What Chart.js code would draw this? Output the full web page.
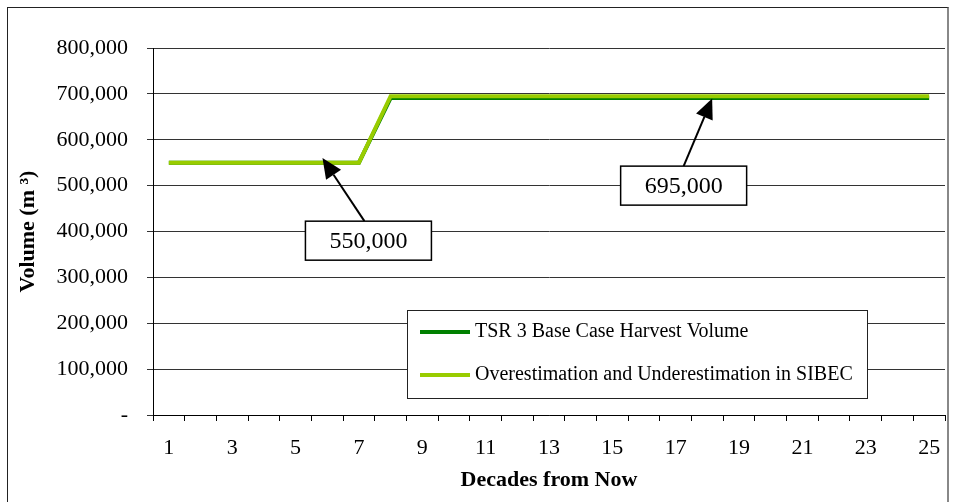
<!DOCTYPE html>
<html>
<head>
<meta charset="utf-8">
<script src="https://cdn.jsdelivr.net/npm/chart.js@4"></script>
<style>
  body { margin: 0; background: #fff; }
  #wrap { position: relative; width: 959px; height: 502px; }
  #frame { position: absolute; left: 7px; top: 7px; width: 939px; height: 510px;
           border: 1px solid #222; border-right: 2px solid #888; pointer-events: none; }
  canvas { position: absolute; left: 0; top: 0; }
</style>
</head>
<body>
<div id="wrap">
  <canvas id="volChart" width="959" height="502"></canvas>
  <div id="frame"></div>
</div>
<script>
// decades 1..25
const decades = [1,2,3,4,5,6,7,8,9,10,11,12,13,14,15,16,17,18,19,20,21,22,23,24,25];

const baseCase = [550000,550000,550000,550000,550000,550000,550000,
  691000,691000,691000,691000,691000,691000,691000,691000,691000,691000,
  691000,691000,691000,691000,691000,691000,691000,691000];

const sibecCase = [550000,550000,550000,550000,550000,550000,550000,
  695000,695000,695000,695000,695000,695000,695000,695000,695000,695000,
  695000,695000,695000,695000,695000,695000,695000,695000];

const seriesNames = ['TSR 3 Base Case Harvest Volume', 'Overestimation and Underestimation in SIBEC'];
const seriesColors = ['#008000', '#99cc00'];

const yTicks = [0,100000,200000,300000,400000,500000,600000,700000,800000];

// callout values and where their arrows land (decade, value)
const calloutValues = [550000, 695000];
const calloutTips = [[5.85, 560000], [18.15, 690000]];
const calloutBoxes = [[7.3, 380000], [17.25, 500000]];

const SERIF = "'Liberation Serif', 'Times New Roman', serif";

function fmt(v) {
    return v === 0 ? '-' : v.toLocaleString('en-US');
}

// x position for a fractional decade on the category axis
function decadeX(scale, d) {
    const x0 = scale.getPixelForValue(0);
    const step = scale.getPixelForValue(1) - x0;
    return x0 + (d - 1) * step;
}

const extras = {
    id: 'extras',
    afterDatasetsDraw(chart) {
        const ctx = chart.ctx;
        const xs = chart.scales.x, ys = chart.scales.y;
        const area = chart.chartArea;

        // legend box
        const lx = area.right - 538, ly = area.top + 262, lw = 460, lh = 88;
        ctx.save();
        ctx.fillStyle = '#fff';
        ctx.fillRect(lx, ly, lw, lh);
        ctx.strokeStyle = '#222';
        ctx.lineWidth = 1;
        ctx.strokeRect(lx + 0.5, ly + 0.5, lw, lh);
        ctx.font = '20px ' + SERIF;
        ctx.textBaseline = 'middle';
        ctx.fillStyle = '#000';
        seriesNames.forEach((name, i) => {
            const yy = ly + 22 + i * 43;
            ctx.strokeStyle = seriesColors[i];
            ctx.lineWidth = 4;
            ctx.beginPath();
            ctx.moveTo(lx + 13, yy);
            ctx.lineTo(lx + 63, yy);
            ctx.stroke();
            ctx.fillText(name, lx + 68, yy);
        });
        ctx.restore();

        // callouts
        ctx.save();
        calloutValues.forEach((val, i) => {
            const tx = decadeX(xs, calloutTips[i][0]);
            const ty = ys.getPixelForValue(calloutTips[i][1]);
            const bx = decadeX(xs, calloutBoxes[i][0]);
            const by = ys.getPixelForValue(calloutBoxes[i][1]);
            const bw = 126, bh = 39;
            const sx = bx + (tx > bx ? 0 : -4), sy = by - bh / 2;

            // arrow shaft + head
            const ang = Math.atan2(ty - sy, tx - sx);
            const head = 20, half = 9;
            const hx = tx - head * Math.cos(ang), hy = ty - head * Math.sin(ang);
            ctx.strokeStyle = '#000';
            ctx.lineWidth = 2;
            ctx.beginPath();
            ctx.moveTo(sx, sy);
            ctx.lineTo(hx, hy);
            ctx.stroke();
            ctx.fillStyle = '#000';
            ctx.beginPath();
            ctx.moveTo(tx, ty);
            ctx.lineTo(hx + half * Math.sin(ang), hy - half * Math.cos(ang));
            ctx.lineTo(hx - half * Math.sin(ang), hy + half * Math.cos(ang));
            ctx.closePath();
            ctx.fill();

            // label box
            ctx.fillStyle = '#fff';
            ctx.fillRect(bx - bw / 2, by - bh / 2, bw, bh);
            ctx.lineWidth = 1.5;
            ctx.strokeRect(bx - bw / 2, by - bh / 2, bw, bh);
            ctx.fillStyle = '#000';
            ctx.font = '24px ' + SERIF;
            ctx.textAlign = 'center';
            ctx.textBaseline = 'middle';
            ctx.fillText(fmt(val), bx, by + 1);
        });
        ctx.restore();
    }
};

new Chart(document.getElementById('volChart'), {
    type: 'line',
    data: {
        labels: decades,
        datasets: [
            { label: seriesNames[0], data: baseCase, borderColor: seriesColors[0], borderWidth: 4, pointRadius: 0, order: 1 },
            { label: seriesNames[1], data: sibecCase, borderColor: seriesColors[1], borderWidth: 4, pointRadius: 0, order: 0 }
        ]
    },
    options: {
        responsive: false,
        animation: false,
        devicePixelRatio: 1,
        layout: { padding: { left: 0, right: 14, top: 48, bottom: 0 } },
        plugins: { legend: { display: false }, tooltip: { enabled: false } },
        scales: {
            x: {
                offset: true,
                grid: { offset: true, drawOnChartArea: false, tickLength: 6, color: '#000' },
                border: { color: '#000', width: 1 },
                ticks: {
                    autoSkip: false, maxRotation: 0, padding: 14, color: '#000',
                    font: { family: SERIF, size: 22 },
                    callback: (v, i) => (i % 2 === 0 ? String(decades[i]) : '')
                },
                title: {
                    display: true, text: 'Decades from Now', color: '#000',
                    font: { family: SERIF, size: 22, weight: 'bold' },
                    padding: { top: 0, bottom: 8 }
                },
                afterFit: s => { s.height = 87; }
            },
            y: {
                min: 0, max: 800000,
                afterBuildTicks: s => { s.ticks = yTicks.map(v => ({ value: v })); },
                grid: { color: '#333', tickLength: 6 },
                border: { color: '#000', width: 1 },
                ticks: {
                    padding: 19, color: '#000',
                    font: { family: SERIF, size: 22 },
                    callback: v => fmt(v)
                },
                title: {
                    display: true, text: 'Volume (m ³)', color: '#000',
                    font: { family: SERIF, size: 22, weight: 'bold' },
                    padding: { top: 15, bottom: 0 }
                },
                afterFit: s => { s.width = 153; }
            }
        }
    },
    plugins: [extras]
});
</script>
</body>
</html>
